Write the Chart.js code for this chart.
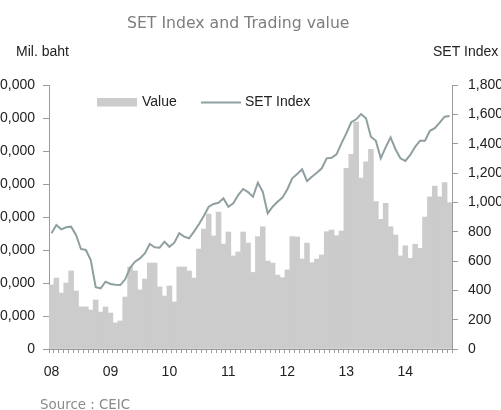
<!DOCTYPE html>
<html><head><meta charset="utf-8">
<script src="https://cdn.jsdelivr.net/npm/chart.js@4/dist/chart.umd.min.js"></script>
<style>html,body{margin:0;padding:0;background:#fff;overflow:hidden}#wrap{position:relative;width:501px;height:410px}</style>
</head><body><div id="wrap"><canvas id="c" width="501" height="410"></canvas></div>
<script>
// ---- Data (monthly, Jan 2008 - Oct 2014) ----
const months = [
 'Jan-08','Feb-08','Mar-08','Apr-08','May-08','Jun-08','Jul-08','Aug-08','Sep-08','Oct-08','Nov-08','Dec-08',
 'Jan-09','Feb-09','Mar-09','Apr-09','May-09','Jun-09','Jul-09','Aug-09','Sep-09','Oct-09','Nov-09','Dec-09',
 'Jan-10','Feb-10','Mar-10','Apr-10','May-10','Jun-10','Jul-10','Aug-10','Sep-10','Oct-10','Nov-10','Dec-10',
 'Jan-11','Feb-11','Mar-11','Apr-11','May-11','Jun-11','Jul-11','Aug-11','Sep-11','Oct-11','Nov-11','Dec-11',
 'Jan-12','Feb-12','Mar-12','Apr-12','May-12','Jun-12','Jul-12','Aug-12','Sep-12','Oct-12','Nov-12','Dec-12',
 'Jan-13','Feb-13','Mar-13','Apr-13','May-13','Jun-13','Jul-13','Aug-13','Sep-13','Oct-13','Nov-13','Dec-13',
 'Jan-14','Feb-14','Mar-14','Apr-14','May-14','Jun-14','Jul-14','Aug-14','Sep-14','Oct-14'
];
const yearTickLabels = ['08','09','10','11','12','13','14'];
// Trading value, Mil. baht
const tradingValue = [
 388000, 430000, 339000, 400000, 473000, 352000, 255000, 255000, 236000, 297000, 224000, 255000,
 218000, 158000, 170000, 315000, 497000, 473000, 358000, 424000, 521000, 521000, 376000, 321000,
 382000, 285000, 497000, 497000, 473000, 430000, 606000, 727000, 818000, 685000, 830000, 636000,
 709000, 564000, 588000, 709000, 642000, 464000, 681000, 741000, 533000, 521000, 448000, 432000,
 479000, 681000, 679000, 545000, 642000, 523000, 545000, 570000, 711000, 721000, 687000, 715000,
 1095000, 1180000, 1376000, 1036000, 1135000, 1210000, 893000, 786000, 883000, 741000, 691000, 564000,
 626000, 550000, 635000, 610000, 800000, 923000, 988000, 923000, 1008000, 887000
];
// SET Index
const setIndex = [
 789, 845, 816, 830, 834, 777, 682, 675, 607, 421, 414, 459,
 443, 438, 436, 475, 554, 595, 618, 652, 716, 693, 691, 732,
 697, 725, 789, 766, 755, 800, 850, 907, 970, 989, 997, 1027,
 970, 993, 1050, 1091, 1070, 1038, 1134, 1072, 925, 970, 1004, 1032,
 1089, 1164, 1193, 1225, 1145, 1175, 1202, 1232, 1300, 1304, 1327, 1402,
 1470, 1546, 1566, 1602, 1573, 1447, 1420, 1300, 1375, 1443, 1362, 1300,
 1282, 1323, 1379, 1420, 1420, 1488, 1505, 1543, 1584, 1589
];
const leftTicks = [0, 200000, 400000, 600000, 800000, 1000000, 1200000, 1400000, 1600000];
const rightTicks = [0, 200, 400, 600, 800, 1000, 1200, 1400, 1600, 1800];
const titleText = 'SET Index and Trading value';
const leftUnit = 'Mil. baht';
const rightUnit = 'SET Index';
const sourceText = 'Source : CEIC';

const BAR_COLOR = '#cccccc';
const LINE_COLOR = '#8f9fa0';
const AXIS_COLOR = '#9a9a9a';
const TEXT_COLOR = '#222222';
const ARIAL = '"Liberation Sans", Arial, sans-serif';
const TAHOMA = '"DejaVu Sans", Verdana, sans-serif';

Chart.defaults.font.family = ARIAL;
Chart.defaults.font.size = 14;
Chart.defaults.color = TEXT_COLOR;

const fmt = v => Number(v).toLocaleString('en-US');

const decor = {
  id: 'decor',
  afterDraw(chart) {
    const ctx = chart.ctx;
    ctx.save();
    // title
    ctx.fillStyle = '#7d7d7d';
    ctx.font = '15.7px ' + TAHOMA;
    ctx.textAlign = 'left';
    ctx.textBaseline = 'alphabetic';
    ctx.fillText(titleText, 127, 28);
    // axis units
    ctx.fillStyle = TEXT_COLOR;
    ctx.font = '14px ' + ARIAL;
    ctx.textBaseline = 'middle';
    ctx.fillText(leftUnit, 16, 52);
    ctx.fillText(rightUnit, 433, 52);
    // legend
    const ds = chart.data.datasets;
    const ly = 102.5;
    ctx.fillStyle = BAR_COLOR;
    ctx.fillRect(97, 98, 40, 8.5);
    ctx.fillStyle = TEXT_COLOR;
    ctx.fillText(ds[1].label, 142, ly);
    ctx.strokeStyle = LINE_COLOR;
    ctx.lineWidth = 2;
    ctx.beginPath(); ctx.moveTo(201, ly); ctx.lineTo(241, ly); ctx.stroke();
    ctx.fillText(ds[0].label, 245, ly);
    // source
    ctx.fillStyle = '#8a8a8a';
    ctx.font = '13.4px ' + TAHOMA;
    ctx.textBaseline = 'alphabetic';
    ctx.fillText(sourceText, 40, 409);
    ctx.restore();
  }
};

new Chart(document.getElementById('c'), {
  type: 'bar',
  data: {
    labels: months,
    datasets: [
      { type: 'line', label: 'SET Index', data: setIndex, yAxisID: 'y1', order: 0,
        borderColor: LINE_COLOR, borderWidth: 2, pointRadius: 0, tension: 0, fill: false },
      { type: 'bar', label: 'Value', data: tradingValue, yAxisID: 'y', order: 1,
        backgroundColor: BAR_COLOR, borderWidth: 0, categoryPercentage: 1.0, barPercentage: 1.0 }
    ]
  },
  options: {
    responsive: false,
    animation: false,
    devicePixelRatio: 1,
    layout: { padding: { top: 85, left: 0, right: 0, bottom: 0 } },
    plugins: { legend: { display: false }, title: { display: false }, tooltip: { enabled: false } },
    scales: {
      x: {
        offset: true,
        grid: { display: true, drawOnChartArea: false, drawTicks: true, tickLength: 4, color: AXIS_COLOR, offset: true },
        border: { display: true, color: AXIS_COLOR, width: 1 },
        ticks: {
          autoSkip: false, maxRotation: 0, minRotation: 0, padding: 11, color: TEXT_COLOR,
          font: { size: 14 },
          callback: (v, i) => (i % 12 === 0 ? yearTickLabels[i / 12] : '')
        },
        afterFit: s => { s.height = 61; }
      },
      y: {
        position: 'left', min: 0, max: 1600000,
        afterBuildTicks: s => { s.ticks = leftTicks.map(v => ({ value: v })); },
        grid: { drawOnChartArea: false, drawTicks: true, tickLength: 6, color: AXIS_COLOR },
        border: { display: true, color: AXIS_COLOR, width: 1 },
        ticks: { padding: 8, color: TEXT_COLOR, font: { size: 14 }, callback: v => fmt(v) },
        afterFit: s => { s.width = 49; }
      },
      y1: {
        position: 'right', min: 0, max: 1800,
        afterBuildTicks: s => { s.ticks = rightTicks.map(v => ({ value: v })); },
        grid: { drawOnChartArea: false, drawTicks: true, tickLength: 6, color: AXIS_COLOR },
        border: { display: true, color: AXIS_COLOR, width: 1 },
        ticks: { padding: 10, color: TEXT_COLOR, font: { size: 14 }, callback: v => fmt(v) },
        afterFit: s => { s.width = 49; }
      }
    }
  },
  plugins: [decor]
});
</script>
</body></html>
